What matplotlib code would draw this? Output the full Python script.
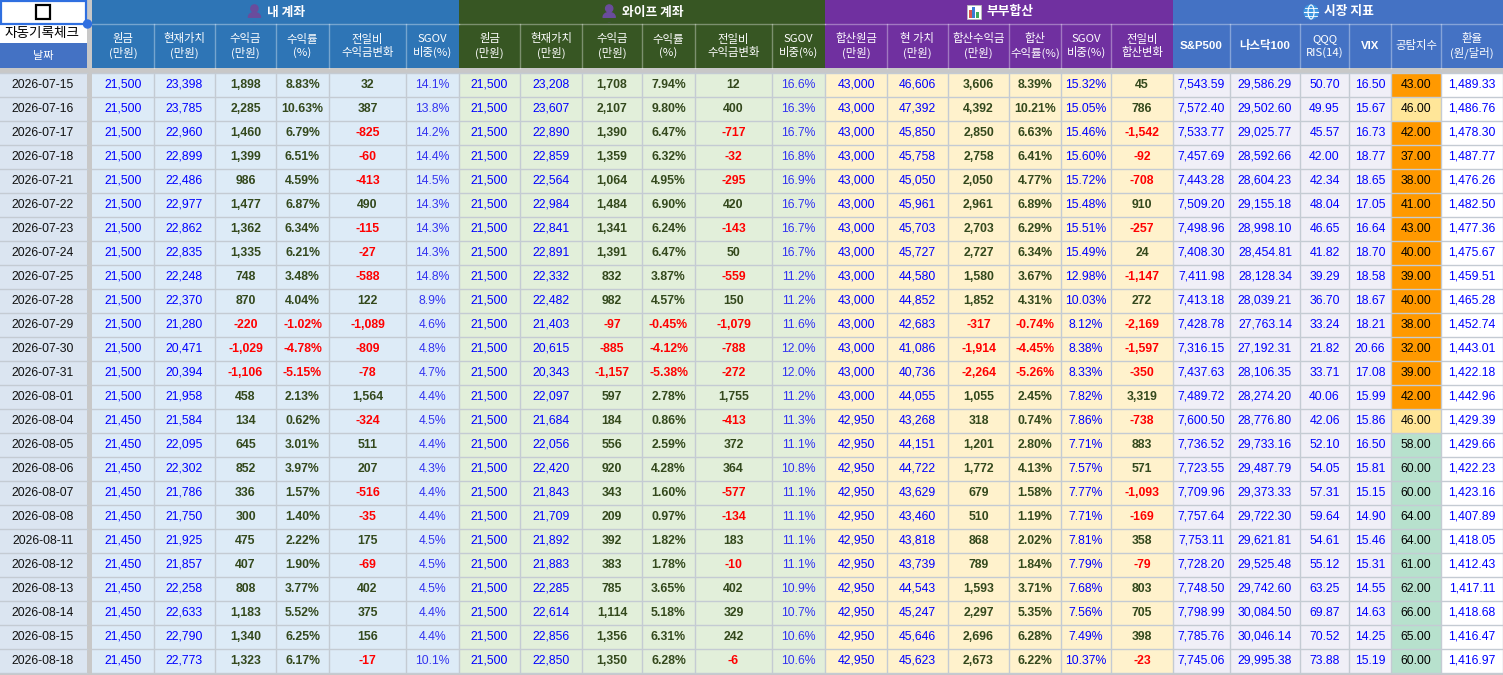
import matplotlib
matplotlib.use("Agg")
from matplotlib import pyplot as plt
from matplotlib.patches import Rectangle, Circle, Ellipse

KR = ["Noto Sans CJK KR", "DejaVu Sans"]
NUM = ["Liberation Sans", "Noto Sans CJK KR"]

# ---- data ----
dates = ["2026-07-15", "2026-07-16", "2026-07-17", "2026-07-18", "2026-07-21",
         "2026-07-22", "2026-07-23", "2026-07-24", "2026-07-25", "2026-07-28",
         "2026-07-29", "2026-07-30", "2026-07-31", "2026-08-01", "2026-08-04",
         "2026-08-05", "2026-08-06", "2026-08-07", "2026-08-08", "2026-08-11",
         "2026-08-12", "2026-08-13", "2026-08-14", "2026-08-15", "2026-08-18"]

my_principal = [21500] * 14 + [21450] * 11
my_value = [23398, 23785, 22960, 22899, 22486, 22977, 22862, 22835, 22248, 22370,
            21280, 20471, 20394, 21958, 21584, 22095, 22302, 21786, 21750, 21925,
            21857, 22258, 22633, 22790, 22773]
my_profit = [1898, 2285, 1460, 1399, 986, 1477, 1362, 1335, 748, 870, -220, -1029,
             -1106, 458, 134, 645, 852, 336, 300, 475, 407, 808, 1183, 1340, 1323]
my_rate = [8.83, 10.63, 6.79, 6.51, 4.59, 6.87, 6.34, 6.21, 3.48, 4.04, -1.02, -4.78,
           -5.15, 2.13, 0.62, 3.01, 3.97, 1.57, 1.40, 2.22, 1.90, 3.77, 5.52, 6.25, 6.17]
my_change = [32, 387, -825, -60, -413, 490, -115, -27, -588, 122, -1089, -809, -78,
             1564, -324, 511, 207, -516, -35, 175, -69, 402, 375, 156, -17]
my_sgov = [14.1, 13.8, 14.2, 14.4, 14.5, 14.3, 14.3, 14.3, 14.8, 8.9, 4.6, 4.8, 4.7,
           4.4, 4.5, 4.4, 4.3, 4.4, 4.4, 4.5, 4.5, 4.5, 4.4, 4.4, 10.1]

wife_principal = [21500] * 25
wife_value = [23208, 23607, 22890, 22859, 22564, 22984, 22841, 22891, 22332, 22482,
              21403, 20615, 20343, 22097, 21684, 22056, 22420, 21843, 21709, 21892,
              21883, 22285, 22614, 22856, 22850]
wife_profit = [1708, 2107, 1390, 1359, 1064, 1484, 1341, 1391, 832, 982, -97, -885,
               -1157, 597, 184, 556, 920, 343, 209, 392, 383, 785, 1114, 1356, 1350]
wife_rate = [7.94, 9.80, 6.47, 6.32, 4.95, 6.90, 6.24, 6.47, 3.87, 4.57, -0.45, -4.12,
             -5.38, 2.78, 0.86, 2.59, 4.28, 1.60, 0.97, 1.82, 1.78, 3.65, 5.18, 6.31, 6.28]
wife_change = [12, 400, -717, -32, -295, 420, -143, 50, -559, 150, -1079, -788, -272,
               1755, -413, 372, 364, -577, -134, 183, -10, 402, 329, 242, -6]
wife_sgov = [16.6, 16.3, 16.7, 16.8, 16.9, 16.7, 16.7, 16.7, 11.2, 11.2, 11.6, 12.0,
             12.0, 11.2, 11.3, 11.1, 10.8, 11.1, 11.1, 11.1, 11.1, 10.9, 10.7, 10.6, 10.6]

sum_principal = [43000] * 14 + [42950] * 11
sum_value = [46606, 47392, 45850, 45758, 45050, 45961, 45703, 45727, 44580, 44852,
             42683, 41086, 40736, 44055, 43268, 44151, 44722, 43629, 43460, 43818,
             43739, 44543, 45247, 45646, 45623]
sum_profit = [3606, 4392, 2850, 2758, 2050, 2961, 2703, 2727, 1580, 1852, -317, -1914,
              -2264, 1055, 318, 1201, 1772, 679, 510, 868, 789, 1593, 2297, 2696, 2673]
sum_rate = [8.39, 10.21, 6.63, 6.41, 4.77, 6.89, 6.29, 6.34, 3.67, 4.31, -0.74, -4.45,
            -5.26, 2.45, 0.74, 2.80, 4.13, 1.58, 1.19, 2.02, 1.84, 3.71, 5.35, 6.28, 6.22]
sum_sgov = [15.32, 15.05, 15.46, 15.60, 15.72, 15.48, 15.51, 15.49, 12.98, 10.03, 8.12,
            8.38, 8.33, 7.82, 7.86, 7.71, 7.57, 7.77, 7.71, 7.81, 7.79, 7.68, 7.56,
            7.49, 10.37]
sum_change = [45, 786, -1542, -92, -708, 910, -257, 24, -1147, 272, -2169, -1597, -350,
              3319, -738, 883, 571, -1093, -169, 358, -79, 803, 705, 398, -23]

sp500 = [7543.59, 7572.40, 7533.77, 7457.69, 7443.28, 7509.20, 7498.96, 7408.30,
         7411.98, 7413.18, 7428.78, 7316.15, 7437.63, 7489.72, 7600.50, 7736.52,
         7723.55, 7709.96, 7757.64, 7753.11, 7728.20, 7748.50, 7798.99, 7785.76, 7745.06]
nasdaq100 = [29586.29, 29502.60, 29025.77, 28592.66, 28604.23, 29155.18, 28998.10,
             28454.81, 28128.34, 28039.21, 27763.14, 27192.31, 28106.35, 28274.20,
             28776.80, 29733.16, 29487.79, 29373.33, 29722.30, 29621.81, 29525.48,
             29742.60, 30084.50, 30046.14, 29995.38]
qqq_rsi = [50.70, 49.95, 45.57, 42.00, 42.34, 48.04, 46.65, 41.82, 39.29, 36.70, 33.24,
           21.82, 33.71, 40.06, 42.06, 52.10, 54.05, 57.31, 59.64, 54.61, 55.12, 63.25,
           69.87, 70.52, 73.88]
vix = [16.50, 15.67, 16.73, 18.77, 18.65, 17.05, 16.64, 18.70, 18.58, 18.67, 18.21,
       20.66, 17.08, 15.99, 15.86, 16.50, 15.81, 15.15, 14.90, 15.46, 15.31, 14.55,
       14.63, 14.25, 15.19]
fear_greed = [43, 46, 42, 37, 38, 41, 43, 40, 39, 40, 38, 32, 39, 42, 46, 58, 60, 60,
              64, 64, 61, 62, 66, 65, 60]
usd_krw = [1489.33, 1486.76, 1478.30, 1487.77, 1476.26, 1482.50, 1477.36, 1475.67,
           1459.51, 1465.28, 1452.74, 1443.01, 1422.18, 1442.96, 1429.39, 1429.66,
           1422.23, 1423.16, 1407.89, 1418.05, 1412.43, 1417.11, 1418.68, 1416.47,
           1416.97]

group_titles = ["내 계좌", "와이프 계좌", "부부합산", "시장 지표"]
my_headers = ["원금\n(만원)", "현재가치\n(만원)", "수익금\n(만원)", "수익률\n(%)",
              "전일비\n수익금변화", "SGOV\n비중(%)"]
sum_headers = ["합산원금\n(만원)", "현 가치\n(만원)", "합산수익금\n(만원)", "합산\n수익률(%)",
               "SGOV\n비중(%)", "전일비\n합산변화"]
market_headers = ["S&P500", "나스닥100", "QQQ\nRIS(14)", "VIX", "공탐지수", "환율\n(원/달러)"]

# ---- layout ----
W, H = 1503, 675
edges = [
    [92, 154, 215, 276, 329, 406, 459],
    [459, 520, 582, 642, 695, 772, 825],
    [825, 887, 948, 1009, 1061, 1111, 1173],
    [1173, 1230, 1300, 1349, 1391, 1441, 1503],
]
head_col = ["#2E75B6", "#375623", "#7030A0", "#4472C4"]
body_col = ["#DDEBF7", "#E2EFDA", "#FFF2CC", "#F0EFF7"]
ROW0, ROWH = 72.5, 24.02
BLUE, GREEN, RED = "#0000FF", "#33481C", "#FF0000"

fig = plt.figure(figsize=(W / 100, H / 100), dpi=100)
ax = fig.add_axes([0, 0, 1, 1])
ax.set_xlim(0, W)
ax.set_ylim(H, 0)
ax.axis("off")
fig.patch.set_facecolor("#C8C8C8")


def rect(x0, y0, x1, y1, fc, ec="none", lw=0, z=1):
    ax.add_patch(Rectangle((x0, y0), x1 - x0, y1 - y0, facecolor=fc,
                           edgecolor=ec, linewidth=lw, zorder=z))


def signed(v):
    return RED if v < 0 else GREEN


def fmt_int(v):
    return f"{v:,}"


def fmt_p2(v):
    return f"{v:.2f}%"


def fmt_p1(v):
    return f"{v:.1f}%"


def fmt_f2(v):
    return f"{v:,.2f}"


# (values, formatter, colour fn, bold)
blocks = [
    [(my_principal, fmt_int, lambda v: BLUE, False),
     (my_value, fmt_int, lambda v: BLUE, False),
     (my_profit, fmt_int, signed, True),
     (my_rate, fmt_p2, signed, True),
     (my_change, fmt_int, signed, True),
     (my_sgov, fmt_p1, lambda v: "#3333F0", False)],
    [(wife_principal, fmt_int, lambda v: BLUE, False),
     (wife_value, fmt_int, lambda v: BLUE, False),
     (wife_profit, fmt_int, signed, True),
     (wife_rate, fmt_p2, signed, True),
     (wife_change, fmt_int, signed, True),
     (wife_sgov, fmt_p1, lambda v: "#3333F0", False)],
    [(sum_principal, fmt_int, lambda v: BLUE, False),
     (sum_value, fmt_int, lambda v: BLUE, False),
     (sum_profit, fmt_int, signed, True),
     (sum_rate, fmt_p2, signed, True),
     (sum_sgov, fmt_p2, lambda v: BLUE, False),
     (sum_change, fmt_int, signed, True)],
    [(sp500, fmt_f2, lambda v: BLUE, False),
     (nasdaq100, fmt_f2, lambda v: BLUE, False),
     (qqq_rsi, fmt_f2, lambda v: BLUE, False),
     (vix, fmt_f2, lambda v: BLUE, False),
     (fear_greed, fmt_f2, lambda v: "black", False),
     (usd_krw, fmt_f2, lambda v: BLUE, False)],
]
headers = [my_headers, my_headers, sum_headers, market_headers]


def fear_colour(v):
    if v < 45:
        return "#FF9900"
    if v < 55:
        return "#FFE699"
    return "#B7E1CD"


n = len(dates)
bottom = ROW0 + n * ROWH

# date column
rect(0, ROW0, 87, bottom, "#DBE5F1")
for i, d in enumerate(dates):
    y = ROW0 + (i + 0.5) * ROWH
    ax.text(43, y, d, ha="center", va="center", fontsize=8.8, family=NUM, color="#111111")

# body blocks
for b, (cols, ed) in enumerate(zip(blocks, edges)):
    rect(ed[0], ROW0, ed[-1], bottom, body_col[b])
    for c, (vals, fmt, colf, bold) in enumerate(cols):
        x0, x1 = ed[c], ed[c + 1]
        if b == 3 and c == 4:
            for i, v in enumerate(vals):
                rect(x0, ROW0 + i * ROWH, x1, ROW0 + (i + 1) * ROWH, fear_colour(v), z=1.5)
        if b == 3 and c == 5:
            rect(x0, ROW0, x1, bottom, "white", z=1.5)
        for i, v in enumerate(vals):
            y = ROW0 + (i + 0.5) * ROWH
            ax.text((x0 + x1) / 2, y, fmt(v), ha="center", va="center", fontsize=8.8,
                    family=NUM, color=colf(v),
                    fontweight="bold" if bold else "normal", zorder=4)
        ax.plot([x1, x1], [ROW0, bottom], color="#C4CBD3", lw=1, zorder=3)

# horizontal grid lines
for i in range(n + 1):
    y = ROW0 + i * ROWH
    ax.plot([0, 87], [y, y], color="#C4CBD3", lw=1, zorder=3)
    ax.plot([92, W], [y, y], color="#C4CBD3", lw=1, zorder=3)

# header bands
for b, ed in enumerate(edges):
    rect(ed[0], 0, ed[-1], 68, head_col[b])
    ax.plot([ed[0], ed[-1]], [24, 24], color="white", alpha=0.35, lw=1, zorder=3)
    for c, lab in enumerate(headers[b]):
        x0, x1 = ed[c], ed[c + 1]
        bold = b == 3 and lab in ("S&P500", "나스닥100", "VIX")
        ax.text((x0 + x1) / 2, 46, lab, ha="center", va="center", fontsize=8.2,
                family=NUM if bold else KR, color="white", linespacing=1.25,
                fontweight="bold" if bold else "normal", zorder=4)
        if c > 0:
            ax.plot([x0, x0], [24, 68], color="white", alpha=0.35, lw=1, zorder=3)

fig.canvas.draw()
renderer = fig.canvas.get_renderer()
inv = ax.transData.inverted()
for b, ed in enumerate(edges):
    cx = (ed[0] + ed[-1]) / 2 + 11
    t = ax.text(cx, 12, group_titles[b], ha="center", va="center", fontsize=9.2,
                family=KR, color="white", fontweight="bold", zorder=4)
    bb = t.get_window_extent(renderer)
    left = inv.transform((bb.x0, bb.y0))[0]
    ix = left - 13
    if b < 2:
        ax.add_patch(Circle((ix, 8.5), 3.6, color="#6A4C9C", zorder=5))
        ax.add_patch(Ellipse((ix, 17), 12, 9, color="#6A4C9C", zorder=5))
        rect(ix - 7, 17.5, ix + 7, 22, head_col[b], z=5.5)
    elif b == 2:
        rect(ix - 7, 5, ix + 7, 19, "white", ec="#BBBBBB", lw=0.6, z=5)
        rect(ix - 5, 10, ix - 2, 18, "#D9534F", z=6)
        rect(ix - 1.5, 7, ix + 1.5, 18, "#3A7BD5", z=6)
        rect(ix + 2, 12, ix + 5, 18, "#3DAA5C", z=6)
    else:
        ax.add_patch(Circle((ix, 12), 7, color="#3D95E0", zorder=5))
        ax.add_patch(Ellipse((ix, 12), 6, 14, fill=False, ec="white", lw=0.8, zorder=6))
        ax.plot([ix - 7, ix + 7], [12, 12], color="white", lw=0.8, zorder=6)
        ax.plot([ix - 6, ix + 6], [8, 8], color="white", lw=0.6, zorder=6)
        ax.plot([ix - 6, ix + 6], [16, 16], color="white", lw=0.6, zorder=6)

# date header
rect(0, 0, 87, 43, "white", z=2)
rect(1, 1, 86, 24, "none", ec="#2F6FE0", lw=1.6, z=5)
rect(36, 5, 50, 19, "white", ec="black", lw=1.6, z=6)
ax.add_patch(Circle((87.5, 24), 4, color="#2F6FE0", zorder=7))
ax.text(42, 33.5, "자동기록체크", ha="center", va="center", fontsize=9.8,
        family=KR, color="black", zorder=4)
rect(0, 43, 87, 68, "#4472C4", z=2)
ax.text(43, 56, "날짜", ha="center", va="center", fontsize=8, family=KR,
        color="white", zorder=4)

fig.savefig("out.png", dpi=100, facecolor=fig.get_facecolor())
